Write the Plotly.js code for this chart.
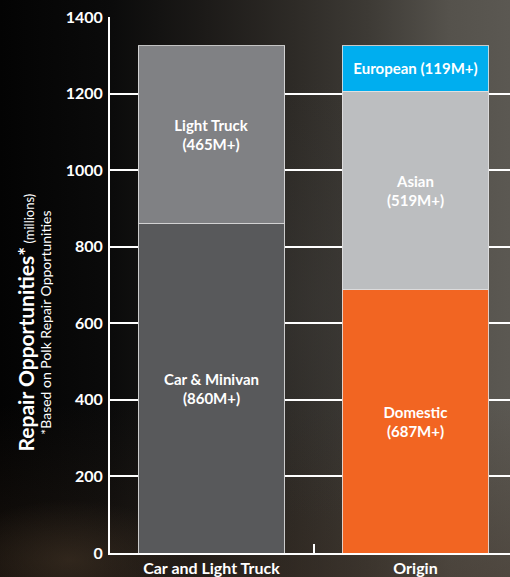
<!DOCTYPE html>
<html>
<head>
<meta charset="utf-8">
<script src="https://cdn.plot.ly/plotly-3.0.1.min.js"></script>
<style>
  html, body { margin: 0; padding: 0; background: #000; }
  #chart {
    width: 510px; height: 577px;
    background:
      radial-gradient(ellipse 120px 60px at 70px 560px, rgba(70,55,40,0.55), rgba(0,0,0,0) 100%),
      radial-gradient(ellipse 160px 220px at 320px 300px, rgba(60,58,55,0.45), rgba(0,0,0,0) 100%),
      linear-gradient(180deg, rgba(0,0,0,0) 70%, rgba(55,40,28,0.35) 100%),
      linear-gradient(90deg, #030303 0%, #0b0b0b 22%, #1c1a18 40%, #2e2b27 58%, #3d3a35 72%, #55524c 88%, #5b5852 100%);
  }
</style>
</head>
<body>
<div id="chart"></div>
<script>
// ---- data ----
const categories = ['Car and Light Truck', 'Origin'];
const segmentNames = ['Car & Minivan', 'Light Truck', 'Domestic', 'Asian', 'European'];
const segmentCategory = ['Car and Light Truck', 'Car and Light Truck', 'Origin', 'Origin', 'Origin'];
const segmentValues = [860, 465, 687, 519, 119];
const yTickValues = [0, 200, 400, 600, 800, 1000, 1200, 1400];

// ---- styles ----
const segmentColors = ['#58595b', '#808184', '#f26522', '#bcbec0', '#00aeef'];
const labelBreaks = ['<br>', '<br>', '<br>', '<br>', ' '];
const FONT = 'Lato, "Open Sans", sans-serif';

const traces = segmentNames.map((name, i) => ({
  type: 'bar',
  name: name,
  x: [segmentCategory[i]],
  y: [segmentValues[i]],
  text: [`${name}${labelBreaks[i]}(${segmentValues[i]}M+)`],
  textposition: 'inside',
  insidetextanchor: 'middle',
  textangle: 0,
  constraintext: 'none',
  textfont: { family: FONT, size: 15, color: '#ffffff', weight: 'bold' },
  marker: { color: segmentColors[i], line: { color: 'rgba(225,225,225,0.85)', width: 1 } },
  hoverinfo: 'skip',
  showlegend: false
}));

const layout = {
  width: 510, height: 577,
  margin: { l: 110, r: 0, t: 17, b: 24 },
  paper_bgcolor: 'rgba(0,0,0,0)',
  plot_bgcolor: 'rgba(0,0,0,0)',
  barmode: 'stack',
  bargap: 0.28,
  font: { family: FONT, color: '#ffffff' },
  xaxis: {
    type: 'category',
    categoryorder: 'array',
    categoryarray: categories,
    range: [-0.4975, 1.4632],
    showgrid: false,
    showline: true, linecolor: '#ffffff', linewidth: 2,
    tickson: 'boundaries',
    ticks: 'inside', ticklen: 9, tickwidth: 2, tickcolor: '#ffffff',
    tickfont: { family: FONT, size: 16, color: '#ffffff', weight: 'bold' },
    ticklabelstandoff: 0,
    fixedrange: true
  },
  yaxis: {
    range: [0, 1400],
    tickvals: yTickValues,
    ticktext: yTickValues.map(String),
    showgrid: true, gridcolor: '#ffffff', gridwidth: 2,
    zeroline: false,
    showline: true, linecolor: '#ffffff', linewidth: 2,
    ticks: '',
    tickfont: { family: FONT, size: 16, color: '#ffffff', weight: 'bold' },
    ticklabelstandoff: 2,
    fixedrange: true
  },
  annotations: [{
    xref: 'paper', yref: 'paper',
    x: -0.19, y: 0.43,
    xanchor: 'center', yanchor: 'middle',
    textangle: -90,
    showarrow: false,
    align: 'center',
    font: { family: FONT, color: '#ffffff', size: 13 },
    text: '<span style="font-size:21px"><b>Repair Opportunities*</b></span> <span style="font-size:13px">(millions)</span><br><span style="font-size:14px">*Based on Polk Repair Opportunities</span>'
  }]
};

Plotly.newPlot('chart', traces, layout, { staticPlot: true, displayModeBar: false });
</script>
</body>
</html>
